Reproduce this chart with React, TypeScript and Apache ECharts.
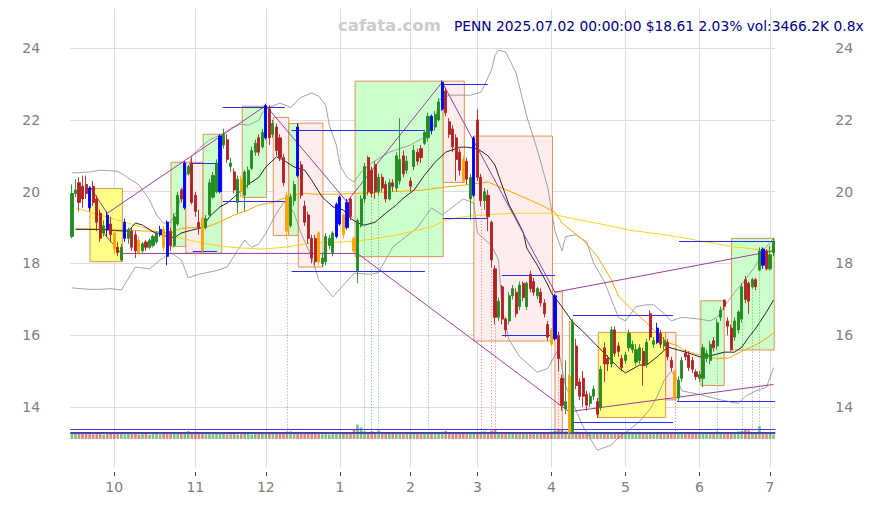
import React, { useEffect, useRef } from 'react';
import * as echarts from 'echarts';

// trading days per month
const monthDays: [string, number[]][] = [
  ['2024-09', [13, 16, 17, 18, 19, 20, 23, 24, 25, 26, 27, 30]],
  ['2024-10', [1, 2, 3, 4, 7, 8, 9, 10, 11, 14, 15, 16, 17, 18, 21, 22, 23, 24, 25, 28, 29, 30, 31]],
  ['2024-11', [1, 4, 5, 6, 7, 8, 11, 12, 13, 14, 15, 18, 19, 20, 21, 22, 25, 26, 27, 29]],
  ['2024-12', [2, 3, 4, 5, 6, 9, 10, 11, 12, 13, 16, 17, 18, 19, 20, 23, 24, 26, 27, 30, 31]],
  ['2025-01', [2, 3, 6, 7, 8, 10, 13, 14, 15, 16, 17, 21, 22, 23, 24, 27, 28, 29, 30, 31]],
  ['2025-02', [3, 4, 5, 6, 7, 10, 11, 12, 13, 14, 18, 19, 20, 21, 24, 25, 26, 27, 28]],
  ['2025-03', [3, 4, 5, 6, 7, 10, 11, 12, 13, 14, 17, 18, 19, 20, 21, 24, 25, 26, 27, 28, 31]],
  ['2025-04', [1, 2, 3, 4, 7, 8, 9, 10, 11, 14, 15, 16, 17, 21, 22, 23, 24, 25, 28, 29, 30]],
  ['2025-05', [1, 2, 5, 6, 7, 8, 9, 12, 13, 14, 15, 16, 19, 20, 21, 22, 23, 27, 28, 29, 30]],
  ['2025-06', [2, 3, 4, 5, 6, 9, 10, 11, 12, 13, 16, 17, 18, 20, 23, 24, 25, 26, 27, 30]],
  ['2025-07', [1, 2]],
];

// [open, close, low, high]
const candles: number[][] = [
  [18.75, 19.95, 18.7, 20.2], [19.95, 20.05, 19.85, 20.35], [20.25, 19.7, 19.45, 20.4], [20.15, 19.8, 19.55, 20.45],
  [20.2, 19.95, 19.8, 20.45], [20.1, 19.55, 19.45, 20.15], [20.15, 19.7, 19.6, 20.3], [19.8, 19.15, 18.9, 19.9],
  [19.4, 18.7, 18.6, 19.5], [18.85, 19.05, 18.75, 19.2], [19.35, 18.95, 18.75, 19.45], [19.1, 18.8, 18.6, 19.3],
  [18.85, 18.4, 18.25, 18.95], [18.45, 18.3, 18.2, 18.6], [18.1, 18.45, 18.05, 18.55], [18.7, 19.15, 18.6, 19.25],
  [18.7, 18.95, 18.55, 19.0], [18.9, 18.45, 18.35, 19.0], [18.8, 18.35, 18.15, 18.9], [18.65, 18.3, 18.25, 18.75],
  [18.35, 18.55, 18.3, 18.6], [18.6, 18.45, 18.35, 18.65], [18.45, 18.65, 18.4, 18.7], [18.5, 18.75, 18.45, 18.8],
  [18.6, 18.85, 18.55, 18.9], [18.8, 18.95, 18.75, 19.05], [18.95, 18.45, 18.35, 19.05], [19.15, 18.2, 17.95, 19.2],
  [18.9, 18.5, 18.35, 19.0], [18.5, 19.3, 18.45, 19.4], [19.1, 19.9, 19.05, 20.0], [20.05, 19.8, 19.7, 20.1],
  [19.55, 20.8, 19.5, 20.85], [20.5, 20.7, 20.45, 20.75], [20.8, 19.7, 19.65, 20.95], [19.9, 19.45, 19.3, 20.0],
  [19.15, 19.0, 18.8, 19.5], [19.25, 18.35, 18.3, 19.3], [19.0, 19.25, 18.95, 19.35], [19.35, 20.25, 19.3, 20.35],
  [19.85, 20.45, 19.8, 20.55], [20.0, 20.8, 19.95, 20.9], [20.0, 21.55, 19.95, 21.6], [21.3, 21.6, 21.2, 21.75],
  [21.45, 20.9, 20.8, 21.6], [20.7, 20.8, 20.55, 20.95], [20.55, 20.05, 19.95, 20.65], [19.7, 20.35, 19.4, 20.45],
  [20.35, 20.0, 19.85, 20.45], [19.9, 20.55, 19.45, 20.6], [20.2, 20.6, 20.1, 20.7], [20.65, 21.15, 20.6, 21.25],
  [21.1, 21.35, 21.0, 21.45], [21.5, 21.1, 21.0, 21.6], [21.25, 21.65, 21.2, 21.75], [21.5, 22.4, 21.45, 22.45],
  [22.3, 21.5, 21.3, 22.4], [21.6, 21.9, 21.5, 22.0], [21.8, 21.15, 21.0, 21.9], [21.5, 20.95, 20.85, 21.6],
  [20.95, 20.25, 20.15, 21.05], [19.9, 18.9, 18.7, 20.0], [19.05, 19.85, 19.0, 19.95], [19.75, 20.2, 19.6, 20.3],
  [21.8, 20.45, 20.4, 21.9], [20.75, 19.9, 19.8, 20.85], [19.6, 19.15, 19.05, 19.75], [19.35, 18.7, 18.55, 19.45],
  [18.7, 18.15, 18.0, 18.8], [18.7, 18.05, 17.95, 18.8], [18.85, 18.05, 17.95, 18.9], [18.0, 18.15, 17.9, 18.3],
  [18.05, 18.75, 17.95, 18.85], [18.5, 18.7, 18.4, 18.8], [18.3, 18.85, 18.2, 18.9], [18.75, 19.65, 18.7, 19.7],
  [19.1, 19.85, 19.05, 19.9], [19.35, 18.8, 18.7, 19.4], [19.0, 19.7, 18.95, 19.8], [19.8, 19.3, 19.2, 19.85],
  [18.7, 18.35, 18.3, 18.75], [17.8, 19.2, 17.45, 19.25], [19.05, 19.8, 19.0, 19.9], [19.8, 20.7, 19.7, 20.8],
  [20.95, 20.0, 19.9, 21.0], [20.6, 19.95, 19.85, 20.7], [20.75, 20.0, 19.8, 20.85], [20.0, 20.4, 19.9, 20.5],
  [20.4, 20.1, 20.0, 20.5], [20.2, 19.8, 19.7, 20.3], [19.8, 20.25, 19.75, 20.35], [20.25, 20.15, 20.0, 20.35],
  [20.1, 21.0, 20.0, 21.1], [20.3, 20.9, 20.2, 22.05], [21.0, 20.5, 20.4, 21.15], [20.6, 20.85, 20.5, 21.0],
  [20.3, 20.15, 20.0, 20.4], [20.7, 21.15, 20.6, 21.3], [21.1, 20.85, 20.75, 21.2], [21.2, 20.95, 20.8, 21.3],
  [21.35, 21.65, 21.3, 21.7], [21.5, 22.1, 21.4, 22.2], [22.1, 21.7, 21.6, 22.15], [21.8, 22.15, 21.7, 22.25],
  [22.0, 22.5, 21.95, 22.6], [22.3, 23.05, 22.25, 23.1], [22.8, 22.2, 22.1, 22.9], [21.95, 21.6, 21.5, 22.05],
  [21.75, 21.25, 21.1, 21.85], [21.5, 20.9, 20.3, 21.6], [21.1, 20.6, 20.45, 21.2], [20.9, 20.3, 20.25, 21.0],
  [20.85, 20.35, 20.2, 20.95], [19.8, 20.4, 19.2, 20.5], [19.9, 21.5, 19.85, 21.55], [22.0, 20.4, 20.3, 22.3],
  [20.4, 19.75, 19.6, 20.5], [19.75, 20.0, 19.5, 20.1], [19.9, 19.3, 18.9, 20.05], [19.15, 18.1, 17.9, 19.2],
  [17.85, 16.5, 16.3, 17.95], [16.5, 16.95, 16.4, 17.05], [17.35, 16.45, 16.3, 17.4], [16.45, 16.15, 15.95, 16.5],
  [16.4, 17.1, 16.3, 17.2], [17.1, 17.3, 17.0, 17.4], [17.2, 16.6, 16.5, 17.3], [16.8, 17.4, 16.7, 17.5],
  [17.45, 17.05, 16.95, 17.5], [16.8, 17.45, 16.7, 17.5], [17.7, 17.3, 17.2, 17.8], [17.5, 17.2, 17.1, 17.6],
  [17.1, 17.3, 17.0, 17.35], [17.2, 16.9, 16.8, 17.3], [16.9, 16.6, 16.5, 17.0], [16.3, 15.95, 15.85, 16.4],
  [16.15, 15.75, 15.7, 16.2], [15.9, 17.1, 15.85, 17.15], [16.0, 15.35, 15.0, 16.1], [14.8, 14.05, 13.9, 14.9],
  [13.95, 14.15, 13.8, 15.3], [14.85, 13.3, 13.2, 14.9], [13.35, 16.35, 13.3, 16.45], [15.7, 14.6, 14.5, 15.9],
  [14.7, 14.3, 14.2, 14.8], [14.8, 14.3, 14.0, 15.0], [14.35, 14.05, 13.9, 14.45], [14.1, 14.3, 14.0, 14.4],
  [14.3, 14.5, 14.2, 14.6], [14.15, 13.8, 13.7, 14.25], [14.0, 15.05, 13.9, 15.15], [15.65, 15.2, 14.7, 15.8],
  [15.35, 15.2, 15.0, 15.45], [15.2, 16.15, 15.1, 16.25], [16.15, 15.5, 15.4, 16.25], [15.7, 15.55, 15.4, 15.8],
  [15.35, 15.1, 15.0, 15.45], [15.3, 15.45, 15.2, 15.55], [15.65, 16.05, 15.55, 16.15], [15.6, 15.75, 15.5, 15.85],
  [15.25, 15.6, 15.15, 15.75], [15.3, 15.65, 15.2, 15.75], [15.55, 15.15, 14.6, 15.65], [15.2, 15.8, 15.1, 15.9],
  [16.6, 15.95, 15.85, 16.7], [15.75, 15.85, 15.65, 15.95], [15.8, 16.2, 15.75, 16.35], [16.05, 15.75, 15.65, 16.15],
  [15.7, 15.85, 15.6, 15.95], [15.8, 15.4, 15.3, 15.9], [15.3, 15.1, 15.0, 15.4], [15.0, 14.25, 14.2, 15.05],
  [14.25, 14.75, 14.15, 14.85], [14.8, 15.3, 14.7, 15.4], [15.5, 15.4, 15.3, 15.6], [15.45, 15.1, 15.0, 15.55],
  [15.3, 15.05, 14.95, 15.4], [14.98, 14.85, 14.75, 15.05], [14.8, 14.9, 14.7, 15.0], [14.8, 15.65, 14.55, 15.75],
  [15.35, 15.5, 15.25, 15.6], [15.3, 15.75, 15.2, 15.85], [15.85, 15.65, 15.55, 15.95], [15.7, 16.35, 15.6, 16.45],
  [16.5, 16.7, 16.4, 16.8], [16.98, 16.8, 16.7, 17.0], [16.4, 16.25, 16.0, 16.5], [16.2, 15.6, 15.55, 16.3],
  [15.95, 16.4, 15.85, 16.5], [16.15, 16.65, 16.05, 16.7], [16.45, 17.35, 16.35, 17.45], [17.55, 17.0, 16.9, 17.65],
  [17.45, 16.95, 16.6, 17.5], [17.35, 17.55, 17.3, 17.6], [17.55, 17.35, 17.25, 17.6], [17.82, 18.35, 17.8, 18.45],
  [18.4, 17.95, 17.85, 18.45], [18.35, 17.85, 17.8, 18.4], [17.85, 18.24, 17.8, 18.5], [18.3, 18.61, 18.2, 18.7],
];

const blueIdx = [5, 10, 15, 25, 27, 32, 42, 55, 64, 75, 76, 78, 102, 105, 114, 137, 166, 196];
const orangeIdx = [12, 19, 26, 37, 48, 61, 70, 77, 80, 111, 136, 141, 171];

// volume in thousands
const volumes = [
  4200, 3800, 4500, 3900, 5000, 4400, 3600, 4800, 4600, 3500, 3900, 4200,
  4500, 3800, 4100, 3600, 4000, 3700, 4300, 3500, 3900, 4100, 3400, 3800, 4000, 3600, 4200, 5200, 4800, 4600, 3900, 4400, 4100, 6000, 5200,
  5500, 4800, 4200, 3700, 4000, 5200, 4600, 3900, 4100, 3600, 3800, 4000, 3500, 3700, 4200, 3900, 3600, 3800, 4100, 4500,
  5000, 4600, 4300, 4000, 3800, 4600, 5600, 5800, 5000, 4700, 5500, 4400, 4000, 3800, 4200, 4000, 3600, 3900, 3500, 3800, 4000,
  4200, 4500, 3900, 4800, 7200, 11000, 8800, 6000, 5400, 5800, 4800, 6500, 4600, 4400, 4200, 4000, 4500, 3900, 4100, 4300,
  4600, 4100, 3900, 4200, 4800, 5000, 4400, 4700, 4200, 5600, 6200, 4800, 4300, 4500, 4000, 4600, 4200, 4900, 5100,
  5400, 5000, 5800, 4800, 6400, 6800, 5200, 4600, 5000, 4400, 4200, 4800, 4300, 4000, 4600, 4200, 4400, 3900, 4500, 4700, 5200,
  5600, 6200, 6800, 7500, 6000, 6900, 8000, 5600, 5000, 4600, 4800, 4200, 4000, 4300, 5200, 4600, 4200, 4000, 3900, 4300, 4100,
  4400, 4000, 3800, 4200, 3900, 4500, 4100, 4800, 5200, 4000, 3700, 3900, 4100, 4300, 5400, 4600, 4200, 3900, 4000, 3800, 4100,
  4300, 4800, 4200, 4400, 4000, 5600, 4900, 4300, 4000, 4700, 5200, 5800, 6200, 7200, 6600, 5400, 5000, 9800, 5200, 4600, 4300, 3466,
];
const volLevels = [7390, 5105, 4343];
const volLevelColors = ['#3a3aff', '#3a3aff', '#555555'];

// overlay lines: [bar index, price]
const bbUpper = [
  [0, 20.52], [5, 20.55], [8, 20.6], [13, 20.57], [16, 20.38], [19, 20.19], [22, 19.77], [24, 19.35], [26, 19.12],
  [28, 19.15], [30, 19.5], [32, 20.32], [34, 21.0], [36, 21.2], [39, 21.44], [43, 21.63], [45, 21.77], [48, 21.88],
  [50, 21.85], [53, 21.99], [54, 22.2], [56, 22.35], [59, 22.47], [62, 22.35], [65, 22.63], [68, 22.75], [70, 22.66],
  [72, 22.41], [73, 21.85], [75, 21.3], [76, 20.74], [78, 20.4], [80, 20.27], [82, 20.55], [85, 20.8], [90, 21.1],
  [96, 21.3], [100, 21.52], [103, 21.91], [104, 22.55], [107, 22.69], [113, 22.69], [116, 22.77], [117, 22.97],
  [119, 23.39], [120, 23.8], [121, 23.94], [123, 23.89], [124, 23.7], [126, 23.3], [129, 22.1], [132, 21.16],
  [135, 20.1], [137, 18.9], [139, 18.35], [140, 18.75], [143, 18.8], [146, 18.6], [148, 18.0], [151, 17.5],
  [153, 17.0], [155, 16.5], [157, 16.4], [160, 16.8], [163, 16.85], [165, 16.85], [168, 16.6], [170, 16.4],
  [173, 16.5], [178, 16.45], [181, 16.4], [183, 16.5], [185, 16.8], [188, 17.2], [191, 17.55], [194, 17.95],
  [196, 18.35], [199, 18.7],
];
const bbLower = [
  [0, 17.32], [5, 17.28], [8, 17.28], [11, 17.3], [14, 17.26], [18, 17.9], [22, 17.85], [25, 18.1], [28, 18.3],
  [31, 18.1], [33, 17.6], [36, 17.7], [41, 17.8], [44, 17.9], [47, 18.37], [49, 18.65], [51, 18.45], [53, 18.55],
  [55, 18.84], [58, 19.4], [60, 19.68], [61, 19.72], [63, 19.4], [65, 18.84], [68, 18.18], [70, 17.54], [74, 17.07],
  [77, 17.4], [80, 17.73], [85, 17.7], [87, 17.75], [91, 18.46], [98, 19.0], [102, 19.55], [105, 19.35],
  [111, 19.8], [114, 19.68], [115, 18.85], [119, 18.5], [121, 18.1], [122, 16.7], [124, 15.87], [127, 15.4],
  [132, 14.97], [135, 15.08], [137, 15.45], [138, 15.6], [140, 14.6], [143, 13.9], [145, 13.45], [149, 12.8],
  [153, 12.94], [155, 13.15], [158, 13.36], [161, 13.6], [164, 13.95], [166, 14.3], [168, 14.75], [170, 15.0],
  [172, 14.7], [173, 14.45], [178, 14.35], [184, 14.2], [189, 14.1], [191, 14.3], [194, 14.45], [197, 14.55],
  [199, 15.1],
];
const maBlack = [
  [1, 18.95], [9, 18.95], [11, 18.92], [16, 18.9], [18, 19.13], [20, 19.07], [23, 18.88], [27, 18.75], [29, 18.72],
  [31, 18.85], [34, 18.93], [37, 19.0], [39, 19.3], [42, 19.58], [44, 19.68], [46, 19.85], [49, 20.13], [51, 20.27],
  [53, 20.4], [55, 20.69], [58, 20.97], [60, 20.88], [63, 20.69], [66, 20.6], [68, 20.32], [71, 19.85], [74, 19.58],
  [77, 19.49], [79, 19.26], [81, 19.13], [83, 19.07], [86, 19.15], [89, 19.4], [92, 19.63], [94, 19.82], [97, 20.04],
  [100, 20.46], [103, 20.82], [106, 21.1], [110, 21.24], [112, 21.24], [115, 21.2], [118, 21.0], [120, 20.74],
  [122, 20.18], [124, 19.63], [126, 19.26], [128, 18.87], [129, 18.43], [132, 17.95], [135, 17.4], [136, 17.18],
  [139, 16.79], [142, 16.37], [145, 16.1], [148, 15.8], [152, 15.4], [155, 15.1], [157, 14.95], [161, 15.17],
  [163, 15.17], [166, 15.4], [169, 15.67], [172, 15.59], [175, 15.5], [178, 15.4], [182, 15.45], [185, 15.53],
  [188, 15.53], [190, 15.67], [192, 15.95], [194, 16.2], [197, 16.65], [199, 16.98],
];
const maOrange = [
  [1, 18.97], [8, 18.95], [15, 18.93], [22, 18.9], [28, 18.85], [31, 18.98], [35, 19.0], [38, 19.0], [42, 19.16],
  [46, 19.35], [50, 19.49], [53, 19.63], [57, 19.7], [61, 19.85], [65, 19.96], [69, 19.93], [75, 19.93], [82, 19.96],
  [91, 20.0], [99, 20.04], [106, 20.13], [111, 20.18], [118, 20.27], [122, 20.1], [128, 19.85], [133, 19.63],
  [137, 19.43], [139, 19.13], [145, 18.65], [149, 18.2], [153, 17.55], [155, 17.1], [159, 16.7], [163, 16.35],
  [165, 16.15], [169, 15.8], [172, 15.7], [173, 15.6], [178, 15.45], [182, 15.36], [186, 15.36], [188, 15.45],
  [191, 15.6], [194, 15.73], [197, 15.92], [199, 16.06],
];
const maGold = [
  [1, 19.55], [8, 19.35], [15, 19.15], [22, 18.95], [29, 18.75], [31, 18.7], [38, 18.55], [45, 18.45], [54, 18.4],
  [61, 18.46], [68, 18.57], [77, 18.6], [83, 18.65], [92, 18.79], [102, 19.02], [106, 19.21], [111, 19.3],
  [116, 19.35], [125, 19.4], [135, 19.4], [144, 19.21], [150, 19.1], [158, 18.93], [169, 18.79], [188, 18.46],
  [199, 18.35],
];
const zigzagUpper = [[5, 20.15], [10, 19.4], [55, 22.4], [78, 19.72], [105, 23.05], [137, 17.2], [199, 18.35]];
const zigzagLower = [[8, 18.95], [14, 18.28], [81, 18.28], [141, 13.87], [199, 14.63]];

// boxes: [x start, x end, low, high, kind]
const boxes: [number, number, number, number, string][] = [
  [5.1, 14.3, 18.05, 20.09, 'y'], [28.1, 32.3, 18.47, 20.82, 'g'], [32.3, 37.2, 18.29, 20.82, 'p'],
  [37.2, 42.5, 18.28, 21.6, 'g'], [48.3, 55.2, 19.84, 22.38, 'g'], [57.1, 61.5, 18.78, 22.07, 'p'],
  [61.5, 64.2, 18.78, 21.9, 'g'], [64.2, 71.2, 17.9, 21.91, 'p'], [80.3, 105.3, 18.19, 23.08, 'g'],
  [105.3, 111.3, 20.26, 23.08, 'p'], [114, 136.3, 15.84, 21.55, 'p'], [137, 139.1, 13.27, 17.21, 'p'],
  [141.1, 142.2, 13.31, 16.38, 'g'], [149.3, 168.4, 13.71, 16.08, 'y'], [168.4, 171.3, 14.2, 16.08, 'p'],
  [178.4, 185, 14.6, 16.96, 'g'], [187.1, 199.2, 15.59, 18.7, 'g'],
];
// horizontal level segments: [x start, x end, price]
const levelSegs = [
  [34.0, 41.0, 20.79], [34.3, 41.1, 18.33], [42.8, 60.4, 22.35], [42.8, 60.4, 19.72], [62.3, 100.1, 21.72],
  [62.3, 100.1, 17.77], [105.2, 118, 22.99], [105.2, 118, 19.26], [121.9, 137, 17.68], [121.9, 137, 16.0],
  [142.1, 170.5, 16.56], [142.1, 170.5, 13.57], [172.2, 199.4, 18.61], [171.6, 199.4, 14.17],
];
const redDots = [61, 116, 119, 120, 138, 171];
const greenDots = [83, 85, 87, 101, 183, 190, 193, 195];
const dotBottom = 13.27;

const titleText = 'PENN 2025.07.02 00:00:00 $18.61 2.03% vol:3466.2K 0.8x';

const UP = '#228b22';
const DOWN = '#b22222';
const BLUE = '#0000ff';
const ORANGE = '#ffa500';

export default function App() {
  const ref = useRef<HTMLDivElement>(null);
  useEffect(() => {
    if (!ref.current) return;
    const chart = echarts.init(ref.current, null, { renderer: 'svg' });
    const dates = monthDays.flatMap(([ym, days]) => days.map((d) => `${ym}-${String(d).padStart(2, '0')}`));
    const monthStart = new Set<number>();
    dates.forEach((d, i) => {
      if (i > 0 && d.slice(0, 7) !== dates[i - 1].slice(0, 7)) monthStart.add(i);
    });
    const isMS = (i: number) => monthStart.has(i);
    const blueSet = new Set(blueIdx);
    const orangeSet = new Set(orangeIdx);

    const candleData = candles.map((c, i) => {
      let col = c[1] >= c[0] ? UP : DOWN;
      if (blueSet.has(i)) col = BLUE;
      if (orangeSet.has(i)) col = ORANGE;
      return { value: c, itemStyle: { color: col, color0: col, borderColor: col, borderColor0: col } };
    });
    const volData = volumes.map((v, i) => ({
      value: v,
      itemStyle: { color: candles[i][1] >= candles[i][0] ? 'rgba(34,139,34,0.55)' : 'rgba(190,40,40,0.55)' },
    }));

    const boxFill: Record<string, string> = { g: '#ccffcc', p: '#fdeded', y: '#ffff88' };
    const boxAreas = boxes.map(([x1, x2, lo, hi, k]) => [
      { coord: [x1, hi], itemStyle: { color: boxFill[k], borderColor: 'rgba(222,130,60,0.85)', borderWidth: 1 } },
      { coord: [x2, lo] },
    ]);
    const segLines: any[] = levelSegs.map(([x1, x2, y]) => [
      { coord: [x1, y], lineStyle: { color: '#2a2aff', width: 1, type: 'solid' } },
      { coord: [x2, y] },
    ]);
    redDots.forEach((i) => {
      segLines.push([
        { coord: [i, candles[i][2]], lineStyle: { color: 'rgba(220,60,60,0.8)', width: 0.8, type: [1, 2] } },
        { coord: [i, dotBottom] },
      ]);
    });
    greenDots.forEach((i) => {
      segLines.push([
        { coord: [i, candles[i][2]], lineStyle: { color: 'rgba(40,160,40,0.8)', width: 0.8, type: [1, 2] } },
        { coord: [i, dotBottom] },
      ]);
    });

    const overlay = (name: string, data: number[][], color: string, width: number, z = 4) => ({
      name,
      type: 'line',
      xAxisIndex: 1,
      yAxisIndex: 0,
      data,
      showSymbol: false,
      symbol: 'none',
      silent: true,
      z,
      lineStyle: { color, width },
    });

    const yLabel = { color: '#808080', fontSize: 14, fontFamily: 'DejaVu Sans', showMinLabel: false, showMaxLabel: false };
    const T = 'rgba(0,0,0,0)';
    const G = '#dddddd';

    chart.setOption({
      animation: false,
      backgroundColor: '#ffffff',
      textStyle: { fontFamily: 'DejaVu Sans' },
      title: [
        {
          text: 'cafata.com', left: 338, top: 17, padding: 0,
          textStyle: { color: '#cccccc', fontSize: 16.5, fontWeight: 'bold', fontFamily: 'DejaVu Sans' },
        },
        {
          text: titleText, left: 454, top: 19, padding: 0,
          textStyle: { color: '#00008b', fontSize: 13.8, fontWeight: 'normal', fontFamily: 'DejaVu Sans' },
        },
      ],
      grid: [
        { left: 70.2, right: 98.7, top: 9, bottom: 38 },
        { left: 70.2, right: 98.7, top: 418, height: 21 },
      ],
      xAxis: [
        {
          type: 'category', gridIndex: 0, data: dates, boundaryGap: true, offset: 5,
          axisLine: { show: false },
          axisTick: { show: true, alignWithLabel: true, interval: isMS, length: 4, lineStyle: { color: '#444' } },
          axisLabel: {
            interval: isMS, margin: 8, color: '#808080', fontSize: 14, fontFamily: 'DejaVu Sans',
            formatter: (v: string) => String(parseInt(v.slice(5, 7), 10)),
          },
          splitLine: { show: true, alignWithLabel: true, interval: isMS, lineStyle: { color: G, width: 1 } },
        },
        { type: 'value', gridIndex: 0, min: -0.5, max: 199.5, show: false },
        { type: 'category', gridIndex: 1, data: dates, show: false },
      ],
      yAxis: [
        {
          type: 'value', gridIndex: 0, min: 12.33, max: 25.09, splitNumber: 6, position: 'left',
          axisLine: { show: false }, axisTick: { show: false },
          axisLabel: { ...yLabel, margin: 30 },
          splitLine: { show: true, lineStyle: { color: [T, G, G, G, G, G, G, T], width: 1 } },
        },
        {
          type: 'value', gridIndex: 0, min: 12.33, max: 25.09, splitNumber: 6, position: 'right',
          axisLine: { show: false }, axisTick: { show: false },
          axisLabel: { ...yLabel, margin: 60 },
          splitLine: { show: false },
        },
        { type: 'value', gridIndex: 1, min: 0, max: 16000, show: false },
      ],
      series: [
        {
          name: 'boxes', type: 'line', xAxisIndex: 1, yAxisIndex: 0, data: [], silent: true, z: 1,
          markArea: { silent: true, z: 1, label: { show: false }, data: boxAreas },
        },
        overlay('bbUpper', bbUpper, '#8c8c8c', 0.8, 3),
        overlay('bbLower', bbLower, '#8c8c8c', 0.8, 3),
        overlay('gold', maGold, '#ffd21f', 1, 3),
        overlay('orange', maOrange, '#ffa500', 1, 3),
        overlay('black', maBlack, '#111111', 0.9, 3),
        overlay('zzU', zigzagUpper, '#a03ca0', 1, 3),
        overlay('zzL', zigzagLower, '#a03ca0', 1, 3),
        {
          name: 'levels', type: 'line', xAxisIndex: 1, yAxisIndex: 0, data: [], silent: true, z: 3,
          markLine: { silent: true, symbol: ['none', 'none'], label: { show: false }, data: segLines },
        },
        {
          name: 'PENN', type: 'candlestick', xAxisIndex: 0, yAxisIndex: 0, data: candleData, barWidth: 2.6, z: 5,
          itemStyle: { borderWidth: 0.9 },
        },
        {
          name: 'vol', type: 'bar', xAxisIndex: 2, yAxisIndex: 2, data: volData, barWidth: '75%', silent: true,
          markLine: {
            silent: true, symbol: ['none', 'none'], label: { show: false },
            data: volLevels.map((v, i) => ({ yAxis: v, lineStyle: { color: volLevelColors[i], width: 1, type: 'solid' } })),
          },
        },
      ],
    });
    return () => chart.dispose();
  }, []);
  return <div ref={ref} style={{ position: 'fixed', left: 0, top: 0, width: 874, height: 505 }} />;
}
